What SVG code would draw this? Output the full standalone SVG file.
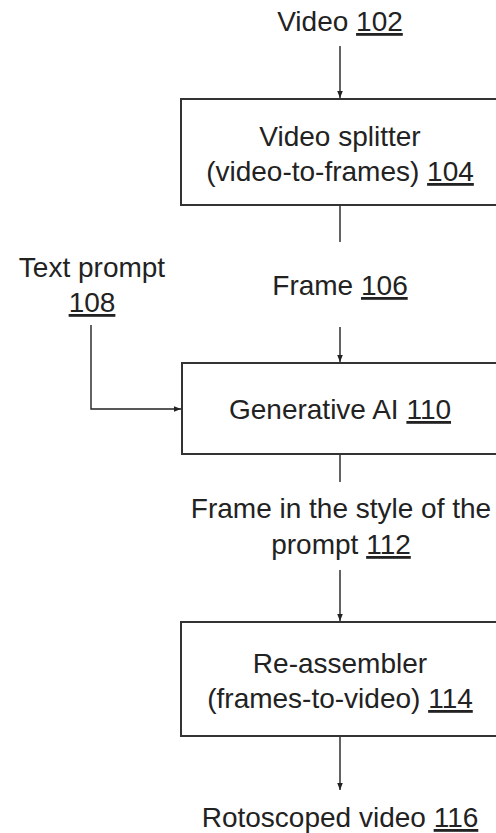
<svg xmlns="http://www.w3.org/2000/svg" width="496" height="833" viewBox="0 0 496 833">
<defs>
<style>
text{font-family:"Liberation Sans",Arial,sans-serif;font-size:28px;fill:#222;text-anchor:middle}
.u{text-decoration:underline}
.box{fill:#fff;stroke:#333;stroke-width:2}
.ln{fill:none;stroke:#222;stroke-width:1.4}
</style>
<marker id="ah" viewBox="0 0 10 10" refX="10" refY="5" markerWidth="7" markerHeight="7" markerUnits="userSpaceOnUse" orient="auto">
<path d="M0,1 L10,5 L0,9 Z" fill="#222"/>
</marker>
</defs>
<rect width="496" height="833" fill="#fff"/>
<g id="connectors">
<line class="ln" x1="340" y1="46" x2="340" y2="98" marker-end="url(#ah)"/>
<line class="ln" x1="340" y1="205" x2="340" y2="242"/>
<line class="ln" x1="340" y1="327" x2="340" y2="362" marker-end="url(#ah)"/>
<polyline class="ln" points="91,325 91,409 181,409" marker-end="url(#ah)"/>
<line class="ln" x1="340" y1="454" x2="340" y2="482"/>
<line class="ln" x1="340" y1="570" x2="340" y2="621" marker-end="url(#ah)"/>
<line class="ln" x1="340" y1="736" x2="340" y2="790" marker-end="url(#ah)"/>
</g>
<g id="video102"><text x="340" y="31">Video <tspan class="u">102</tspan></text></g>
<g id="splitter104">
<rect class="box" x="181" y="99" width="320" height="106"/>
<text x="340" y="146">Video splitter</text>
<text x="340" y="181">(video-to-frames) <tspan class="u">104</tspan></text>
</g>
<g id="frame106"><text x="340" y="295">Frame <tspan class="u">106</tspan></text></g>
<g id="prompt108">
<text x="92" y="277">Text prompt</text>
<text x="92" y="312" class="u">108</text>
</g>
<g id="genai110">
<rect class="box" x="182" y="363" width="320" height="91"/>
<text x="340" y="419">Generative AI <tspan class="u">110</tspan></text>
</g>
<g id="frame112">
<text x="341" y="518">Frame in the style of the</text>
<text x="341" y="554">prompt <tspan class="u">112</tspan></text>
</g>
<g id="reassembler114">
<rect class="box" x="181" y="622" width="320" height="114"/>
<text x="340" y="673">Re-assembler</text>
<text x="340" y="708">(frames-to-video) <tspan class="u">114</tspan></text>
</g>
<g id="video116"><text x="340" y="827">Rotoscoped video <tspan class="u">116</tspan></text></g>
</svg>
